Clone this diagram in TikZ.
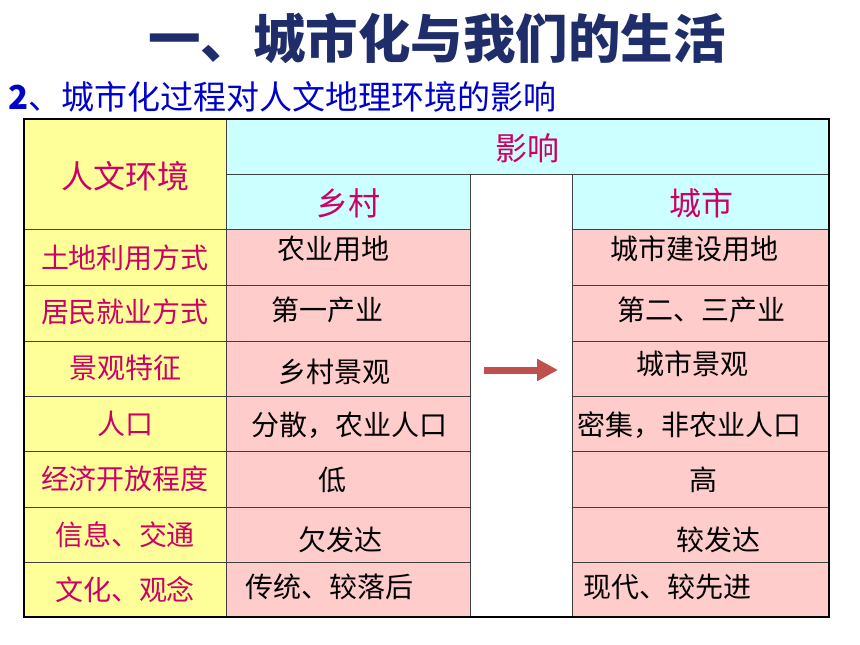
\documentclass[tikz,border=0pt]{standalone}
\usepackage{fontspec}
\setmainfont{Noto Sans CJK SC}
\usetikzlibrary{arrows.meta}
\definecolor{titleblue}{HTML}{1F2D6B}
\definecolor{subblue}{HTML}{0000CC}
\definecolor{labred}{HTML}{CC0066}
\definecolor{labyellow}{HTML}{FFFF99}
\definecolor{headcyan}{HTML}{CCFFFF}
\definecolor{cellpink}{HTML}{FFCCCC}
\definecolor{arrowred}{HTML}{C0504D}

\begin{document}
\begin{tikzpicture}[x=1pt,y=-1pt,cell/.style={draw=black!75,line width=1pt},
  lab/.style={text=labred,font=\fontsize{28}{28}\selectfont},
  head/.style={text=labred,font=\fontsize{32}{32}\selectfont},
  val/.style={text=black,font=\fontsize{28}{28}\selectfont}]
\useasboundingbox (0,0) rectangle (860,645);

\node[text=titleblue,font=\fontsize{52.5}{52}\selectfont\bfseries] (title) at (437,38) {一、城市化与我们的生活};
\node[text=subblue,font=\fontsize{33}{33}\selectfont,anchor=west,inner sep=0pt] (sub) at (8,97) {\textbf{2}、城市化过程对人文地理环境的影响};

% header cells
\filldraw[cell,fill=labyellow] (24,119) rectangle (226,229);
\filldraw[cell,fill=headcyan] (226,119) rectangle (829,174);
\filldraw[cell,fill=headcyan] (226,174) rectangle (470,229);
\filldraw[cell,fill=white] (470,174) rectangle (572,617);
\filldraw[cell,fill=headcyan] (572,174) rectangle (829,229);
\foreach \t/\b in {229/285,285/341,341/396,396/451,451/507,507/562,562/617}{
  \filldraw[cell,fill=labyellow] (24,\t) rectangle (226,\b);
  \filldraw[cell,fill=cellpink] (226,\t) rectangle (470,\b);
  \filldraw[cell,fill=cellpink] (572,\t) rectangle (829,\b);
}
\draw[line width=2.5pt] (24,119) rectangle (829,617);

\node[head] (env) at (125,176) {人文环境};
\node[head] (effect) at (527,148) {影响};
\node[head] (rural) at (348,203) {乡村};
\node[head] (urban) at (701,203) {城市};

\foreach \n/\y/\txt in {1/258/土地利用方式,2/312/居民就业方式,3/368/景观特征,4/424/人口,5/479/经济开放程度,6/535/信息、交通,7/590/文化、观念}
  \node[lab] (lab\n) at (125,\y) {\txt};

\foreach \n/\x/\y/\txt in {1/333/249/农业用地,2/327/310/第一产业,3/334/372/乡村景观,4/349/425/分散，农业人口,5/332/480/低,6/340/540/欠发达,7/329/587/传统、较落后}
  \node[val] (rural\n) at (\x,\y) {\txt};

\foreach \n/\x/\y/\txt in {1/694/249/城市建设用地,2/701/310/第二、三产业,3/692/364/城市景观,4/689/425/密集，非农业人口,5/703/480/高,6/718/540/较发达,7/667/587/现代、较先进}
  \node[val] (urban\n) at (\x,\y) {\txt};

\coordinate (from) at (484,370);
\coordinate (to) at (558,370);
\draw[arrowred,line width=7pt,-{Triangle[length=21pt,width=21pt]}] (from) -- (to);
\end{tikzpicture}
\end{document}
